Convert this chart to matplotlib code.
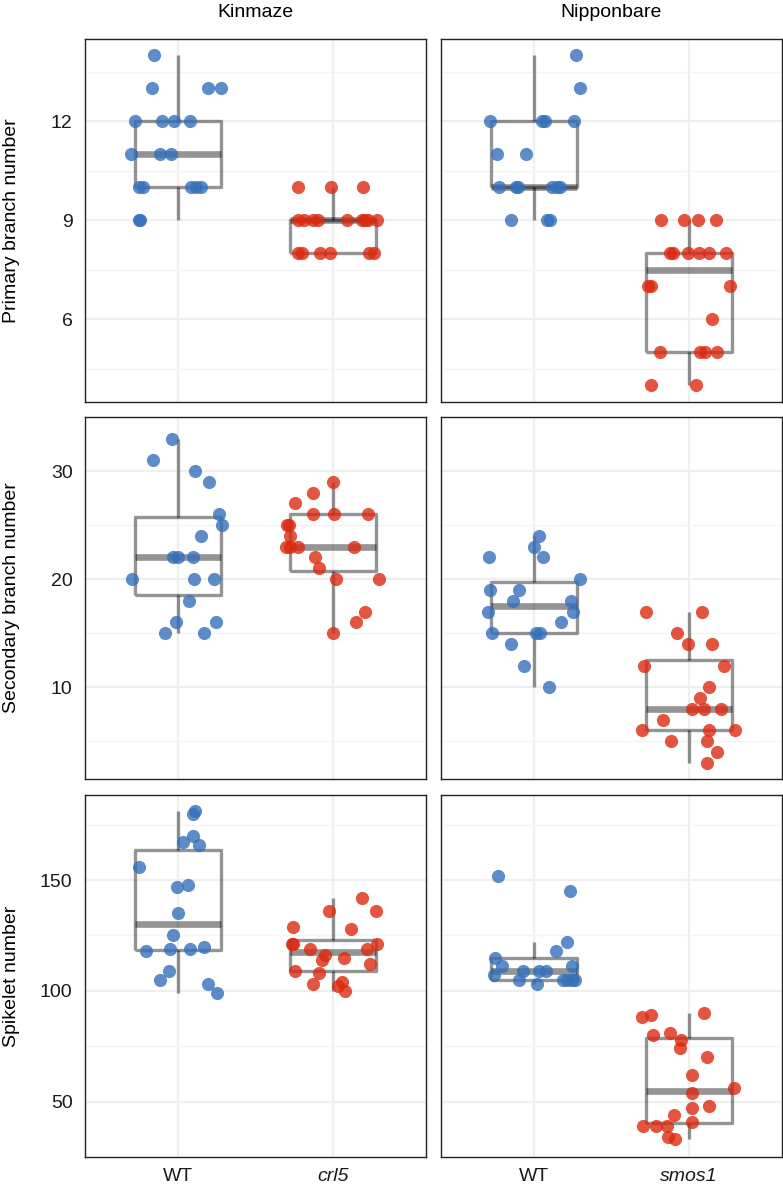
import numpy as np
import matplotlib
matplotlib.use("Agg")
import matplotlib.pyplot as plt

plt.rcParams['font.family'] = ['Liberation Sans', 'DejaVu Sans']

strains = ['Kinmaze', 'Nipponbare']
mutants = ['crl5', 'smos1']
traits = ['Primary branch number', 'Secondary branch number', 'Spikelet number']
yticks = [[6, 9, 12], [10, 20, 30], [50, 100, 150]]

# values, with the horizontal jitter of each dot
# Kinmaze, primary branches
kin_wt_pb = [14, 13, 13, 13, 12, 12, 12, 12, 11, 11, 11, 10, 10, 10, 10, 10, 9, 9]
kin_wt_pb_j = [-0.155, -0.166, 0.196, 0.277, -0.28, -0.105, -0.028, 0.075, -0.30, -0.114, -0.047,
               -0.25, -0.224, 0.082, 0.114, 0.146, -0.25, -0.245]
kin_mu_pb = [10, 10, 10, 9, 9, 9, 9, 9, 9, 9, 9, 9, 8, 8, 8, 8, 8, 8]
kin_mu_pb_j = [-0.228, -0.013, 0.194, -0.228, -0.187, -0.127, -0.099, 0.088, 0.185, 0.205, 0.226, 0.284,
               -0.228, -0.202, -0.082, -0.017, 0.230, 0.265]
# Nipponbare, primary branches
nip_wt_pb = [14, 13, 12, 12, 12, 12, 11, 11, 10, 10, 10, 10, 10, 10, 9, 9, 9]
nip_wt_pb_j = [0.271, 0.295, -0.282, 0.054, 0.073, 0.258, -0.239, -0.05, -0.224, -0.116, -0.101,
               0.118, 0.146, 0.17, -0.15, 0.082, 0.103]
nip_mu_pb = [9, 9, 9, 9, 8, 8, 8, 8, 8, 8, 7, 7, 7, 6, 5, 5, 5, 5, 4, 4]
nip_mu_pb_j = [-0.178, -0.032, 0.058, 0.174, -0.124, -0.105, -0.009, 0.062, 0.126, 0.24,
               -0.264, -0.245, 0.266, 0.15, -0.185, 0.068, 0.105, 0.178, -0.243, 0.047]

# Kinmaze, secondary branches
kin_wt_sb = [33, 31, 30, 29, 26, 25, 24, 22, 22, 22, 20, 20, 20, 18, 16, 16, 15, 15]
kin_wt_sb_j = [-0.039, -0.161, 0.11, 0.202, 0.265, 0.282, 0.148, -0.032, -0.002, 0.099,
               -0.297, 0.101, 0.232, 0.073, -0.015, 0.247, -0.086, 0.17]
kin_mu_sb = [29, 28, 27, 26, 26, 26, 25, 25, 24, 23, 23, 23, 23, 22, 21, 20, 20, 17, 16, 15]
kin_mu_sb_j = [0.0, -0.127, -0.243, -0.127, 0.004, 0.226, -0.297, -0.282, -0.276, -0.302,
               -0.276, -0.224, 0.137, -0.114, -0.092, 0.019, 0.299, 0.204, 0.148, 0.002]
# Nipponbare, secondary branches
nip_wt_sb = [24, 23, 22, 22, 20, 19, 19, 18, 18, 17, 17, 16, 15, 15, 15, 14, 12, 10]
nip_wt_sb_j = [0.034, 0.002, -0.292, 0.06, 0.299, -0.282, -0.095, -0.134, 0.241, -0.297,
               0.254, 0.174, -0.271, 0.011, 0.041, -0.148, -0.063, 0.099]
nip_mu_sb = [17, 17, 15, 14, 14, 12, 12, 10, 9, 8, 8, 8, 7, 6, 6, 6, 5, 5, 4, 3]
nip_mu_sb_j = [-0.275, 0.086, -0.075, -0.006, 0.15, -0.292, 0.223, 0.126, 0.071, 0.021,
               0.098, 0.208, -0.17, -0.301, 0.131, 0.296, -0.116, 0.119, 0.183, 0.119]

# Kinmaze, spikelets
kin_wt_sp = [181, 180, 170, 167, 166, 156, 148, 147, 135, 125, 118, 119, 119, 120, 109, 105, 103, 99]
kin_wt_sp_j = [0.107, 0.095, 0.097, 0.03, 0.135, -0.254, 0.062, -0.004, 0.0, -0.032,
               -0.208, -0.05, 0.075, 0.168, -0.056, -0.118, 0.194, 0.25]
kin_mu_sp = [142, 136, 136, 129, 128, 121, 121, 121, 119, 119, 116, 115, 114, 112, 109, 108,
             103, 104, 102, 100]
kin_mu_sp_j = [0.185, -0.024, 0.277, -0.256, 0.118, -0.267, -0.258, 0.284, -0.146, 0.217,
               -0.052, 0.073, -0.073, 0.241, -0.247, -0.09, -0.131, 0.056, 0.03, 0.079]
# Nipponbare, spikelets
nip_wt_sp = [152, 145, 122, 118, 115, 111, 111, 109, 109, 109, 107, 105, 105, 105, 105, 105, 103]
nip_wt_sp_j = [-0.23, 0.232, 0.211, 0.144, -0.25, -0.206, 0.247, -0.071, 0.032, 0.075,
               -0.258, -0.099, 0.185, 0.211, 0.243, 0.265, 0.021]
nip_mu_sp = [90, 88, 89, 80, 81, 78, 74, 70, 62, 54, 56, 47, 48, 44, 41, 39, 39, 39, 34, 33]
nip_mu_sp_j = [0.098, -0.305, -0.245, -0.235, -0.123, -0.05, -0.058, 0.114, 0.019, 0.021,
               0.292, 0.019, 0.126, -0.098, 0.021, -0.295, -0.215, -0.142, -0.138, -0.093]

data = [
    [(kin_wt_pb, kin_wt_pb_j, kin_mu_pb, kin_mu_pb_j), (nip_wt_pb, nip_wt_pb_j, nip_mu_pb, nip_mu_pb_j)],
    [(kin_wt_sb, kin_wt_sb_j, kin_mu_sb, kin_mu_sb_j), (nip_wt_sb, nip_wt_sb_j, nip_mu_sb, nip_mu_sb_j)],
    [(kin_wt_sp, kin_wt_sp_j, kin_mu_sp, kin_mu_sp_j), (nip_wt_sp, nip_wt_sp_j, nip_mu_sp, nip_mu_sp_j)],
]

blue = '#3470BB'
red = '#DC2A10'

W, H = 783, 1189
fig = plt.figure(figsize=(W / 100, H / 100), dpi=100)

col_x = [85, 441]
row_y = [(39, 402), (417, 779), (795, 1157)]
pw = 341

box_kw = dict(color='black', alpha=0.42, linewidth=2.4, solid_capstyle='butt')

for r in range(3):
    allv = []
    for c in range(2):
        allv += data[r][c][0] + data[r][c][2]
    lo, hi = min(allv), max(allv)
    pad = (hi - lo) * 0.05
    ylim = (lo - pad, hi + pad)
    t = yticks[r]
    step = t[1] - t[0]
    minor = [v + step / 2 for v in [t[0] - step] + t]

    for c in range(2):
        y0, y1 = row_y[r]
        ax = fig.add_axes([col_x[c] / W, 1 - y1 / H, pw / W, (y1 - y0) / H])
        wt, wtj, mu, muj = data[r][c]

        ax.boxplot([wt, mu], positions=[1, 2], widths=0.56, showfliers=False, showcaps=False,
                   manage_ticks=False,
                   boxprops=box_kw, whiskerprops=box_kw,
                   medianprops=dict(color='black', alpha=0.42, linewidth=4.8, solid_capstyle='butt'),
                   zorder=2)

        ax.scatter(1 + np.array(wtj), wt, s=90, color=blue, alpha=0.8, linewidths=0, zorder=3)
        ax.scatter(2 + np.array(muj), mu, s=90, color=red, alpha=0.8, linewidths=0, zorder=3)

        ax.set_xlim(0.4, 2.6)
        ax.set_ylim(*ylim)
        ax.set_yticks(t)
        ax.set_yticks(minor, minor=True)
        ax.set_xticks([1, 2])
        ax.set_xticks([], minor=True)
        ax.grid(True, which='major', color='#EFEFEF', linewidth=1.6, zorder=0)
        ax.grid(True, which='minor', axis='y', color='#F4F4F4', linewidth=1.0, zorder=0)
        ax.set_axisbelow(True)
        ax.tick_params(which='both', length=0, labelsize=14, colors='#1a1a1a')
        ax.tick_params(axis='y', pad=9)

        for s in ax.spines.values():
            s.set_color('#222222')
            s.set_linewidth(1.0)
            s.set_zorder(4)

        if c == 1:
            ax.set_yticklabels([])
        else:
            ax.set_ylabel(traits[r], fontsize=14)
            ax.yaxis.set_label_coords(-65 / pw, 0.5)
        if r == 2:
            ax.set_xticklabels(['WT', mutants[c]])
            ax.get_xticklabels()[1].set_style('italic')
            ax.tick_params(axis='x', pad=8)
        else:
            ax.set_xticklabels([])
        if r == 0:
            ax.set_title(strains[c], fontsize=14, pad=16)

fig.savefig('out.png', dpi=100)
